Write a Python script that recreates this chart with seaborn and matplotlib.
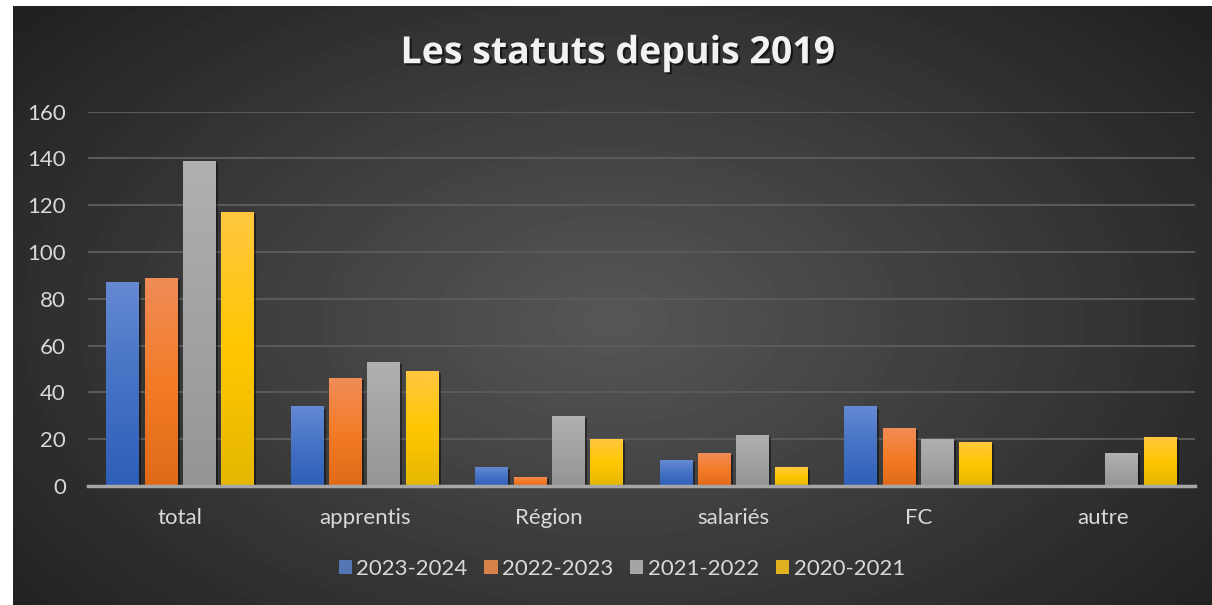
#standard ds imports
import pandas as pd
import numpy as np

#viualization imports
import matplotlib.pyplot as plt
import matplotlib.patheffects as pe
from matplotlib.colors import LinearSegmentedColormap
import seaborn as sns


# data
statuts = ['total', 'apprentis', 'Région', 'salariés', 'FC', 'autre']
annees = ['2023-2024', '2022-2023', '2021-2022', '2020-2021']
v_2023_2024 = [87, 34, 8, 11, 34, 0]
v_2022_2023 = [89, 46, 4, 14, 25, 0]
v_2021_2022 = [139, 53, 30, 22, 20, 14]
v_2020_2021 = [117, 49, 20, 8, 19, 21]

base_colors = ['#4472c4', '#ed7d31', '#a5a5a5', '#ffc000']
# bottom / middle / top of the bar gradient
grad_colors = [
    ['#2e5fb8', '#4472c4', '#6589d3'],
    ['#e06a18', '#f47c28', '#f08c58'],
    ['#959595', '#a3a3a3', '#b0b0b0'],
    ['#e5b700', '#ffc700', '#ffc740'],
]

df = pd.DataFrame({
    'statut': statuts * 4,
    'annee': np.repeat(annees, len(statuts)),
    'valeur': v_2023_2024 + v_2022_2023 + v_2021_2022 + v_2020_2021,
})

sns.set_style('dark')
plt.rcParams['font.family'] = ['Lato', 'DejaVu Sans']

fig = plt.figure(figsize=(12.12, 6.05), dpi=100)

# radial dark background
bg = fig.add_axes([0, 0, 1, 1], zorder=-10)
yy, xx = np.mgrid[0:605, 0:1212]
r = np.sqrt(((xx - 610) / 700.0) ** 2 + ((yy - 320) / 420.0) ** 2)
r = np.clip(r / 1.1, 0, 1)
shade = 0.34 - 0.21 * r
bg.imshow(shade, cmap='gray', vmin=0, vmax=1, aspect='auto', extent=[0, 1212, 605, 0])
bg.fill_between([0, 13], 0, 605, color='white', lw=0)
bg.fill_between([0, 1212], 0, 6, color='white', lw=0)
bg.set_xlim(0, 1212)
bg.set_ylim(605, 0)
bg.axis('off')

ax = fig.add_axes([0.0726, 0.1967, 0.9134, 0.6187])
ax.set_facecolor('none')

sns.barplot(data=df, x='statut', y='valeur', hue='annee', palette=base_colors,
            width=0.83, gap=0.14, ax=ax, zorder=2, linewidth=0)

# vertical gradient on each bar
for cont, cols in zip(ax.containers, grad_colors):
    cmap = LinearSegmentedColormap.from_list('g', cols)
    for p in cont.patches:
        x0, w, h = p.get_x(), p.get_width(), p.get_height()
        p.set_linewidth(0)
        p.set_path_effects([pe.SimplePatchShadow(offset=(1.5, -1.5), shadow_rgbFace='black', alpha=0.45),
                            pe.Normal()])
        if h <= 0:
            continue
        grad = np.linspace(0, 1, 100).reshape(-1, 1)
        im = ax.imshow(grad, cmap=cmap, extent=[x0, x0 + w, 0, h], origin='lower',
                       aspect='auto', zorder=2.5)
        im.set_clip_path(p)

ax.set_xlim(-0.5, 5.5)
ax.set_ylim(0, 160)
ax.set_yticks(range(0, 161, 20))
ax.yaxis.grid(True, color='#5a5a5a', lw=1.5)
ax.xaxis.grid(False)
ax.set_axisbelow(True)
for s in ['top', 'right', 'left']:
    ax.spines[s].set_visible(False)
ax.spines['bottom'].set_color('#a6a6a6')
ax.spines['bottom'].set_linewidth(2.5)
ax.spines['bottom'].set_zorder(3)
ax.tick_params(axis='both', length=0, labelsize=16, labelcolor='#d9d9d9')
ax.tick_params(axis='x', pad=16)
ax.tick_params(axis='y', pad=16)
ax.set_xlabel('')
ax.set_ylabel('')

handles, labels = ax.get_legend_handles_labels()
ax.get_legend().remove()
fig.legend(handles, labels, loc='center', bbox_to_anchor=(0.513, 0.0595), ncol=4,
           frameon=False, fontsize=16, labelcolor='#d9d9d9', handlelength=0.6,
           handleheight=0.6, handletextpad=0.2, columnspacing=0.75)

fig.text(0.5095, 0.912, 'Les statuts depuis 2019', ha='center', va='center',
         fontsize=27, fontweight='bold', color='#f2f2f2', family=['Open Sans', 'DejaVu Sans'],
         path_effects=[pe.SimplePatchShadow(offset=(1.5, -1.5), shadow_rgbFace='black', alpha=0.6),
                       pe.Normal()])

plt.savefig('out.png', dpi=100)
